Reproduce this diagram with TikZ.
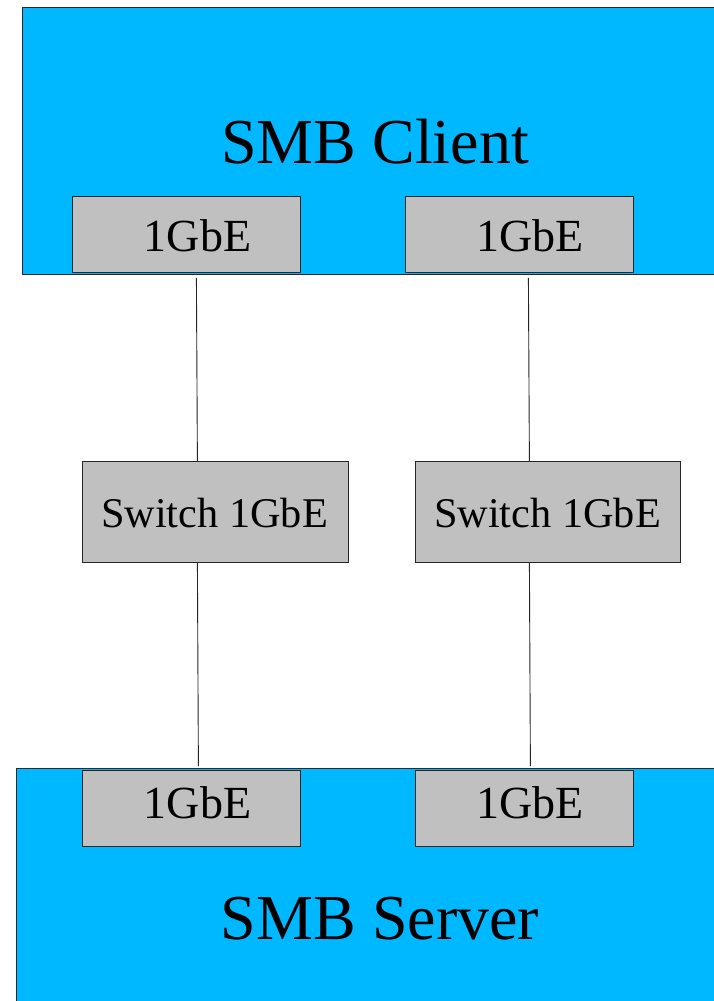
\documentclass[tikz,border=0pt]{standalone}
\usepackage{fontspec}
\setmainfont{Liberation Serif}
\definecolor{smbblue}{HTML}{00B8FF}
\definecolor{nicgray}{HTML}{C0C0C0}
\begin{document}
\begin{tikzpicture}[x=1pt,y=-1pt,
  hostbox/.style={draw=black!85, fill=smbblue, line width=0.8pt, anchor=north west, inner sep=0pt, minimum width=720pt},
  nicbox/.style={draw=black!85, fill=nicgray, line width=0.8pt, anchor=north west, inner sep=0pt, minimum height=76pt},
  swbox/.style={draw=black!85, fill=nicgray, line width=0.8pt, anchor=north west, inner sep=0pt, minimum height=101pt},
  biglbl/.style={anchor=base, inner sep=0pt, font=\fontsize{64}{70}\selectfont},
  niclbl/.style={anchor=base, inner sep=0pt, font=\fontsize{46}{50}\selectfont},
  swlbl/.style={anchor=base, inner sep=0pt, font=\fontsize{42.3}{46}\selectfont},
  link/.style={draw=black!85, line width=0.9pt}]
\useasboundingbox (0,0) rectangle (714,1001);
\clip (0,0) rectangle (714,1001);
\fill[white] (0,0) rectangle (714,1001);
% client
\node[hostbox, minimum height=267pt] (client) at (22,7) {};
\node[biglbl] (clientlbl) at (375,163) {SMB Client};
\node[nicbox, minimum width=228pt] (nicCL) at (72,196) {};
\node[nicbox, minimum width=228pt] (nicCR) at (405,196) {};
\node[niclbl] (nicCLlbl) at (197.5,251) {1GbE};
\node[niclbl] (nicCRlbl) at (530,251) {1GbE};
% switches
\node[swbox, minimum width=266pt] (swL) at (82,461) {};
\node[swbox, minimum width=265pt] (swR) at (415,461) {};
\node[swlbl] (swLlbl) at (214.5,527) {Switch 1GbE};
\node[swlbl] (swRlbl) at (547.5,527) {Switch 1GbE};
% server
\node[hostbox, minimum height=260pt] (server) at (16,768) {};
\node[nicbox, minimum width=218pt] (nicSL) at (82,770) {};
\node[nicbox, minimum width=218pt] (nicSR) at (415,770) {};
\node[niclbl] (nicSLlbl) at (197.5,818) {1GbE};
\node[niclbl] (nicSRlbl) at (530,818) {1GbE};
\node[biglbl] (serverlbl) at (380,939) {SMB Server};
% links
\draw[link] ([shift={(10,5)}]nicCL.south) -- ([xshift=-18pt]swL.north);
\draw[link] ([shift={(9,5)}]nicCR.south) -- ([xshift=-18.5pt]swR.north);
\draw[link] ([xshift=-18pt]swL.south) -- ([shift={(7,-4)}]nicSL.north);
\draw[link] ([xshift=-18.5pt]swR.south) -- ([shift={(6,-4)}]nicSR.north);
\end{tikzpicture}
\end{document}
